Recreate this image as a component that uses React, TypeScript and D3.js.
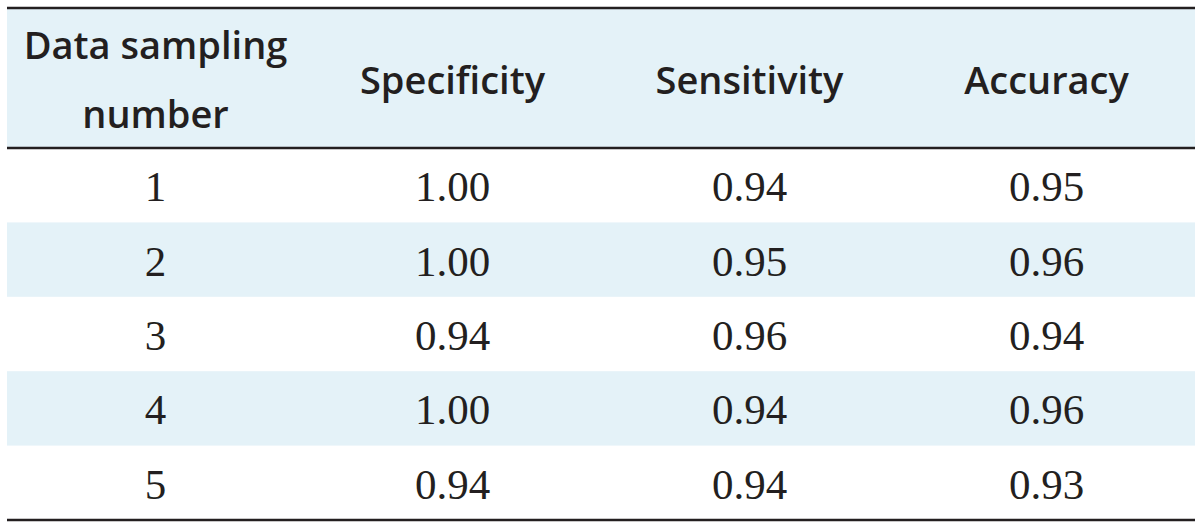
import React from "react";
import * as d3 from "d3";

const columns = ["Data sampling\nnumber", "Specificity", "Sensitivity", "Accuracy"];
const samplingNumbers = ["1", "2", "3", "4", "5"];
const specificity = ["1.00", "1.00", "0.94", "1.00", "0.94"];
const sensitivity = ["0.94", "0.95", "0.96", "0.94", "0.94"];
const accuracy = ["0.95", "0.96", "0.94", "0.96", "0.93"];

const W = 1200;
const H = 527;
const left = 7;
const right = 1195;
const top = 8;
const headerBottom = 148;
const bottom = 520;
const ink = "#231f20";
const stripe = "#e4f2f8";

export default function App() {
  const rows = samplingNumbers.map((n, i) => [n, specificity[i], sensitivity[i], accuracy[i]]);
  const x = d3.scaleBand<number>().domain(d3.range(columns.length)).range([left, right]);
  const y = d3.scaleBand<number>().domain(d3.range(rows.length)).range([headerBottom, bottom]);
  const headerFont = "'Open Sans', 'Noto Sans', sans-serif";
  const bodyFont = "'Liberation Serif', 'DejaVu Serif', serif";
  return (
    <svg width={W} height={H} style={{ position: "absolute", left: 0, top: 0, background: "#fff" }}>
      <rect x={left} y={top} width={right - left} height={headerBottom - top} fill={stripe} />
      {rows.map((r, i) =>
        i % 2 === 1 ? (
          <rect key={"s" + i} x={left} y={y(i)!} width={right - left} height={y.bandwidth()} fill={stripe} />
        ) : null
      )}
      {columns.map((c, j) => {
        const lines = c.split("\n");
        const cx = x(j)! + x.bandwidth() / 2;
        const mid = (top + headerBottom) / 2 + 2;
        const lh = 69;
        return (
          <text
            key={"h" + j}
            x={cx}
            textAnchor="middle"
            fontFamily={headerFont}
            fontWeight={600}
            fontSize={38}
            fill={ink}
            textLength={undefined}
          >
            {lines.map((l, k) => (
              <tspan key={k} x={cx} y={mid + (k - (lines.length - 1) / 2) * lh} dy="0.36em">
                {l}
              </tspan>
            ))}
          </text>
        );
      })}
      {rows.map((r, i) =>
        r.map((v, j) => (
          <text
            key={i + "-" + j}
            x={x(j)! + x.bandwidth() / 2}
            y={y(i)! + y.bandwidth() / 2 + 1}
            dy="0.35em"
            textAnchor="middle"
            fontFamily={bodyFont}
            fontSize={43}
            fill={ink}
          >
            {v}
          </text>
        ))
      )}
      <line x1={left} x2={right} y1={top} y2={top} stroke={ink} strokeWidth={2.5} />
      <line x1={left} x2={right} y1={headerBottom} y2={headerBottom} stroke={ink} strokeWidth={2.5} />
      <line x1={left} x2={right} y1={bottom} y2={bottom} stroke={ink} strokeWidth={2.5} />
    </svg>
  );
}
